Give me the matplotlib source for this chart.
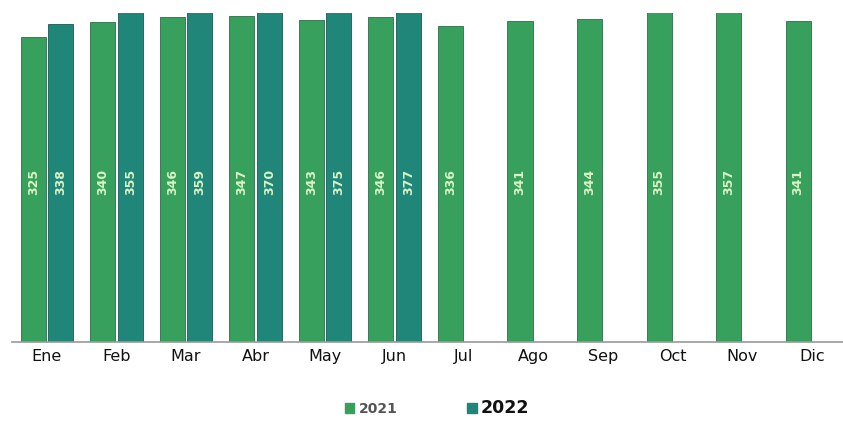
import numpy as np
import matplotlib.pyplot as plt
from matplotlib.patches import Patch

# Datos
meses = ['Ene', 'Feb', 'Mar', 'Abr', 'May', 'Jun', 'Jul', 'Ago', 'Sep', 'Oct', 'Nov', 'Dic']
v2021 = [325, 340, 346, 347, 343, 346, 336, 341, 344, 355, 357, 341]
v2022 = [338, 355, 359, 370, 375, 377]

c2021 = '#36a05c'
c2022 = '#1f8679'

fig = plt.figure(figsize=(8.43, 4.24), dpi=100)
ax = fig.add_axes([12 / 843, 1 - 342 / 424, 831 / 843, 329 / 424])

x = np.arange(len(meses))
w = 0.36
b1 = ax.bar(x - 0.195, v2021, w, color=c2021, edgecolor='#2c6e4a', linewidth=0.6)
x2 = np.arange(len(v2022))
b2 = ax.bar(x2 + 0.2, v2022, w, color=c2022, edgecolor='#1a5a52', linewidth=0.6)

# etiquetas de valor dentro de las barras
ypos = (342 - 182) / 0.942
for xi, v in zip(x - 0.195, v2021):
    ax.text(xi, ypos, str(v), rotation=90, ha='center', va='center',
            color='#d9f3c4', fontsize=9, fontweight='bold')
for xi, v in zip(x2 + 0.2, v2022):
    ax.text(xi, ypos, str(v), rotation=90, ha='center', va='center',
            color='#d9f3c4', fontsize=9, fontweight='bold')

ax.set_xlim(-0.5, 11.45)
ax.set_ylim(0, 350)
ax.set_xticks(x)
ax.set_xticklabels(meses, fontsize=11.5, color='#111111')
ax.tick_params(axis='x', length=0, pad=5)
ax.set_yticks([])
for s in ['top', 'right', 'left']:
    ax.spines[s].set_visible(False)
ax.spines['bottom'].set_color('#999999')
ax.spines['bottom'].set_linewidth(1.2)

handles = [Patch(color=c2021, label='2021'), Patch(color=c2022, label='2022')]
leg = fig.legend(handles=handles, loc='center', bbox_to_anchor=(437 / 843, 1 - 408 / 424),
                 ncol=2, frameon=False, handlelength=0.7, handleheight=0.7,
                 handletextpad=0.3, columnspacing=5,
                 prop={'weight': 'bold', 'size': 10})
t1, t2 = leg.get_texts()
t1.set_color('#555555')
t2.set_fontsize(12.5)
t2.set_color('#111111')

fig.savefig('out.png', dpi=100)
